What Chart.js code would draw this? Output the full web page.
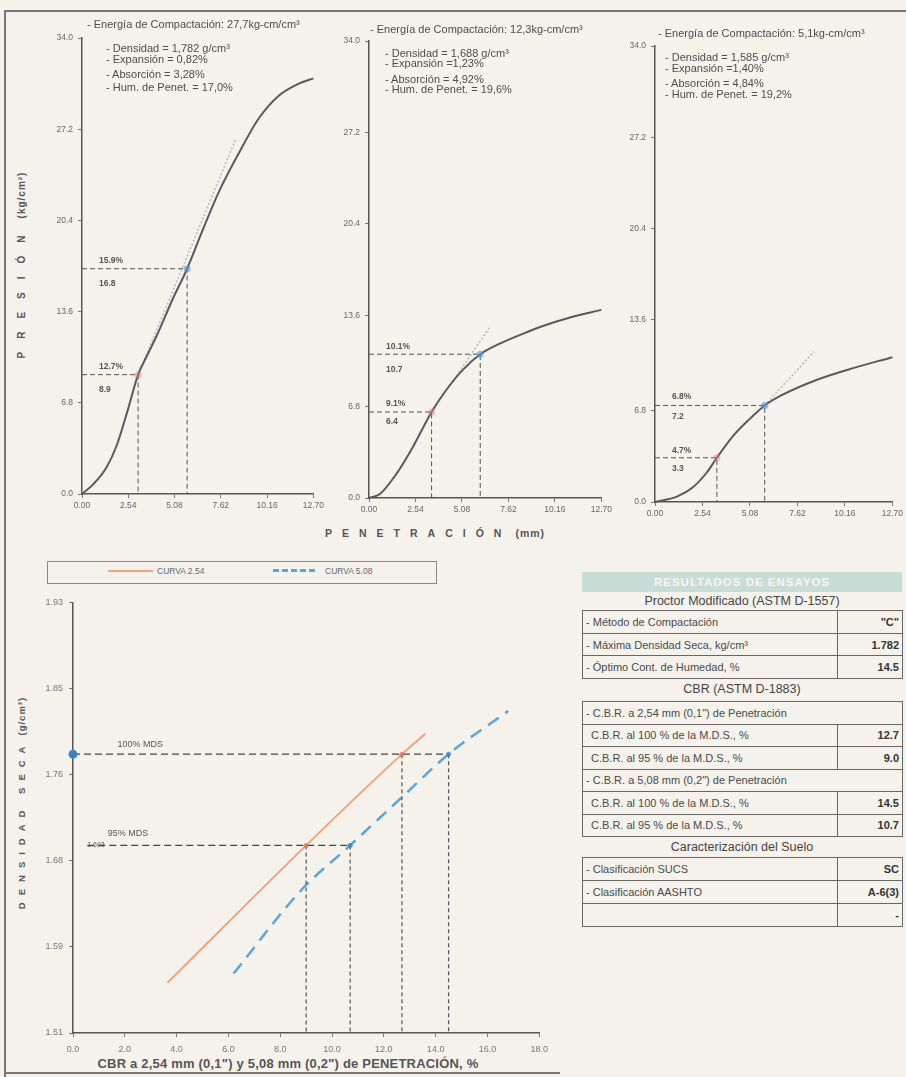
<!DOCTYPE html>
<html><head><meta charset="utf-8">
<script src="https://cdn.jsdelivr.net/npm/chart.js@4.4.1/dist/chart.umd.min.js"></script>
<style>
html,body{margin:0;padding:0;}
body{width:906px;height:1077px;background:#f4f2eb;position:relative;overflow:hidden;font-family:'Liberation Sans',Arial,sans-serif;color:#555;}
canvas{position:absolute;}
.t{position:absolute;white-space:nowrap;line-height:1;}
.info{font-size:11px;color:#4d4d4d;}
.line{position:absolute;background:#777;}
table.r{position:absolute;border-collapse:collapse;font-size:11px;color:#4a4a4a;table-layout:fixed;}
table.r td{border:1px solid #666;padding:0 3px;white-space:nowrap;overflow:hidden;}
table.r td.v{text-align:right;color:#333;font-weight:bold;}
.ttl{position:absolute;left:582px;width:320px;text-align:center;font-size:12.5px;color:#444;line-height:1;}
</style></head><body>

<div class="line" style="left:4px;top:10px;width:902px;height:2px;"></div>
<div class="line" style="left:4px;top:10px;width:2px;height:1067px;"></div>
<div class="line" style="left:4px;top:1072px;width:556px;height:2px;"></div>

<canvas id="c1" width="285" height="488" style="left:42px;top:28px;"></canvas>
<canvas id="c2" width="286" height="489" style="left:329px;top:31px;"></canvas>
<canvas id="c3" width="291" height="488" style="left:615px;top:36px;"></canvas>
<canvas id="c4" width="527" height="464" style="left:28px;top:591px;"></canvas>

<div id="infos"></div>

<div class="t" style="left:22px;top:265px;transform:translate(-50%,-50%) rotate(-90deg);font-size:10px;font-weight:bold;color:#555;"><span style="letter-spacing:13px">PRESIÓN</span><span style="letter-spacing:1px;margin-left:4px">(kg/cm²)</span></div>
<div class="t" style="left:325px;top:528px;font-size:10.5px;font-weight:bold;color:#555;"><span style="letter-spacing:10px">PENETRACIÓN</span><span style="letter-spacing:1px;margin-left:4px">(mm)</span></div>

<div style="position:absolute;left:47px;top:561px;width:388px;height:21px;border:1px solid #888;"></div>
<div style="position:absolute;left:108px;top:570px;width:45px;border-top:2px solid #f2a27a;"></div>
<div class="t" style="left:157px;top:567px;font-size:8.5px;color:#666;">CURVA 2.54</div>
<div style="position:absolute;left:273px;top:569px;width:42px;border-top:3px dashed #5aa5d8;"></div>
<div class="t" style="left:325px;top:567px;font-size:8.5px;color:#666;">CURVA 5.08</div>

<div class="t" style="left:22px;top:803px;transform:translate(-50%,-50%) rotate(-90deg);font-size:9.5px;font-weight:bold;color:#555;"><span style="letter-spacing:7px">DENSIDAD SECA</span><span style="letter-spacing:1px;margin-left:4px">(g/cm³)</span></div>
<div class="t" style="left:288px;top:1063px;transform:translate(-50%,-50%);font-size:13px;letter-spacing:0.2px;font-weight:bold;color:#555;">CBR a 2,54 mm (0,1") y 5,08 mm (0,2") de PENETRACIÓN, %</div>

<div class="t" style="left:582px;top:572px;width:320px;height:20px;background:#c9ddd7;color:#f2f6f4;font-weight:bold;font-size:11.5px;letter-spacing:1px;text-align:center;line-height:20px;">RESULTADOS DE ENSAYOS</div>
<div class="ttl" style="top:595px;">Proctor Modificado (ASTM D-1557)</div>
<div class="ttl" style="top:683px;">CBR (ASTM D-1883)</div>
<div class="ttl" style="top:841px;">Caracterización del Suelo</div>
<div id="tablas"></div>

<script>
// ---------- Curvas presión - penetración ----------
const penetracionTicks = [0.00, 2.54, 5.08, 7.62, 10.16, 12.70];
const presionTicks = [0.0, 6.8, 13.6, 20.4, 27.2, 34.0];

const pen1 = [0, 0.6, 1.35, 1.9, 2.5, 3.08, 3.6, 4.1, 5.0, 5.77, 6.6, 7.5, 8.6, 9.7, 10.8, 11.9, 12.7];
const pres1 = [0, 0.7, 2.0, 3.6, 6.2, 8.9, 10.4, 11.8, 14.6, 16.8, 19.6, 22.5, 25.4, 28.0, 29.7, 30.6, 31.0];
const ptPen1 = [3.08, 5.77];
const ptPres1 = [8.9, 16.8];
const ptCbr1 = ['12.7%', '15.9%'];
const tanPen1 = [3.08, 8.45];
const tanPres1 = [8.9, 26.5];

const pen2 = [0, 0.6, 1.5, 2.4, 3.42, 4.2, 5.1, 6.08, 7.0, 8.2, 9.5, 10.9, 12.7];
const pres2 = [0, 0.3, 1.8, 3.8, 6.4, 8.0, 9.5, 10.7, 11.4, 12.1, 12.8, 13.4, 14.0];
const ptPen2 = [3.42, 6.08];
const ptPres2 = [6.4, 10.7];
const ptCbr2 = ['9.1%', '10.1%'];
const tanPen2 = [3.42, 6.6];
const tanPres2 = [6.4, 12.7];

const pen3 = [0, 1.17, 2.03, 2.77, 3.31, 4.16, 5.07, 5.87, 6.83, 8.64, 10.4, 12.7];
const pres3 = [0, 0.4, 1.1, 2.2, 3.3, 4.9, 6.2, 7.2, 8.0, 9.1, 9.9, 10.8];
const ptPen3 = [3.31, 5.87];
const ptPres3 = [3.3, 7.2];
const ptCbr3 = ['4.7%', '6.8%'];
const tanPen3 = [5.87, 8.5];
const tanPres3 = [7.2, 11.2];

const infoMolde1 = ['- Energía de Compactación: 27,7kg-cm/cm³', '- Densidad = 1,782 g/cm³', '- Expansión = 0,82%', '- Absorción = 3,28%', '- Hum. de Penet. = 17,0%'];
const infoMolde2 = ['- Energía de Compactación: 12,3kg-cm/cm³', '- Densidad = 1,688 g/cm³', '- Expansión =1,23%', '- Absorción = 4,92%', '- Hum. de Penet. = 19,6%'];
const infoMolde3 = ['- Energía de Compactación: 5,1kg-cm/cm³', '- Densidad = 1,585 g/cm³', '- Expansión =1,40%', '- Absorción = 4,84%', '- Hum. de Penet. = 19,2%'];

// ---------- Densidad seca vs CBR ----------
const cbrTicks = [0, 2, 4, 6, 8, 10, 12, 14, 16, 18];
const densidadTicks = [1.510, 1.594, 1.678, 1.762, 1.846, 1.930];
const curva254Cbr = [3.65, 9.0, 12.7, 13.6];
const curva254Dens = [1.559, 1.693, 1.782, 1.802];
const curva508Cbr = [6.2, 8.8, 10.7, 12.7, 14.5, 16.8];
const curva508Dens = [1.568, 1.649, 1.693, 1.740, 1.782, 1.824];
const mdsNiveles = [1.782, 1.693];
const mdsEtiquetas = ['100% MDS', '95% MDS'];
const cbr254 = [12.7, 9.0];
const cbr508 = [14.5, 10.7];

// ---------- Tabla de resultados ----------
const proctorFilas = ['- Método de Compactación', '- Máxima Densidad Seca, kg/cm³', '- Óptimo Cont. de Humedad, %'];
const proctorValores = ['"C"', '1.782', '14.5'];
const cbrFilas = ['- C.B.R. a 2,54 mm (0,1") de Penetración', 'C.B.R. al 100 % de la M.D.S., %', 'C.B.R. al 95 % de la M.D.S., %', '- C.B.R. a 5,08 mm (0,2") de Penetración', 'C.B.R. al 100 % de la M.D.S., %', 'C.B.R. al 95 % de la M.D.S., %'];
const cbrValores = [null, '12.7', '9.0', null, '14.5', '10.7'];
const sueloFilas = ['- Clasificación SUCS', '- Clasificación AASHTO', ''];
const sueloValores = ['SC', 'A-6(3)', '-'];

Chart.defaults.font.family = "'Liberation Sans', Arial, sans-serif";
Chart.defaults.color = '#666';

const zip = (xs, ys) => xs.map((x, i) => ({x: x, y: ys[i]}));

const textos = {
  id: 'textos',
  afterDatasetsDraw(chart, args, opts) {
    const ctx = chart.ctx, sx = chart.scales.x, sy = chart.scales.y;
    (opts.items || []).forEach(it => {
      ctx.save();
      ctx.font = it.font || "8px 'Liberation Sans', Arial";
      ctx.fillStyle = it.color || '#555';
      ctx.textAlign = 'left';
      ctx.textBaseline = 'middle';
      ctx.fillText(it.text, sx.getPixelForValue(it.x) + (it.dx || 0), sy.getPixelForValue(it.y) + (it.dy || 0));
      ctx.restore();
    });
  }
};

function axisCommon(extra) {
  return Object.assign({
    type: 'linear',
    grid: {display: true, drawOnChartArea: false, drawTicks: true, tickLength: 4, color: '#777'},
    border: {display: true, color: '#555', width: 1.5}
  }, extra);
}

function topChart(id, pen, pres, ptPen, ptPres, ptCbr, tanPen, tanPres, dyUp, dyDown) {
  const ds = [];
  ds.push({data: zip(ptPen, ptPres), showLine: false, pointRadius: 3.5, pointBorderWidth: 0,
           pointBackgroundColor: ['rgba(225,120,120,0.45)', 'rgba(80,150,225,0.6)']});
  ds.push({data: zip(pen, pres), borderColor: '#5a5a5a', borderWidth: 2, pointRadius: 0, cubicInterpolationMode: 'monotone'});
  ds.push({data: zip(tanPen, tanPres), borderColor: '#b8b8b8', borderWidth: 1.5, borderDash: [2, 2], pointRadius: 0});
  ptPen.forEach((p, i) => {
    ds.push({data: [{x: 0, y: ptPres[i]}, {x: p, y: ptPres[i]}, {x: p, y: 0}], borderColor: '#555', borderWidth: 1, borderDash: [5, 3], pointRadius: 0});
  });
  const items = [];
  ptPen.forEach((p, i) => {
    items.push({text: ptCbr[i], x: 0, y: ptPres[i], dx: 17, dy: dyUp[i], font: "bold 8.5px 'Liberation Sans', Arial"});
    items.push({text: ptPres[i].toFixed(1), x: 0, y: ptPres[i], dx: 17, dy: dyDown[i], font: "bold 8.5px 'Liberation Sans', Arial"});
  });
  ds.forEach(d => { d.clip = false; d.fill = false; });
  return new Chart(document.getElementById(id), {
    type: 'line',
    data: {datasets: ds},
    plugins: [textos],
    options: {
      responsive: false, animation: false, events: [],
      layout: {padding: {top: 6, right: id === 'c3' ? 13 : 12, left: 0, bottom: 0}, autoPadding: false},
      plugins: {legend: {display: false}, tooltip: {enabled: false}, textos: {items: items}},
      scales: {
        x: axisCommon({min: 0, max: 12.7,
          afterBuildTicks(s) { s.ticks = penetracionTicks.map(v => ({value: v})); },
          afterFit(s) { s.height = 22; },
          ticks: {callback: v => Number(v).toFixed(2), font: {size: 8.5}, color: '#666', padding: 3, maxRotation: 0, autoSkip: false}}),
        y: axisCommon({min: 0, max: 34,
          afterBuildTicks(s) { s.ticks = presionTicks.map(v => ({value: v})); },
          afterFit(s) { s.width = 40; },
          ticks: {callback: v => Number(v).toFixed(1), font: {size: 8.5}, color: '#666', padding: 5}})
      }
    }
  });
}

topChart('c1', pen1, pres1, ptPen1, ptPres1, ptCbr1, tanPen1, tanPres1, [-8, -8], [15, 15]);
topChart('c2', pen2, pres2, ptPen2, ptPres2, ptCbr2, tanPen2, tanPres2, [-8, -8], [10, 15]);
topChart('c3', pen3, pres3, ptPen3, ptPres3, ptCbr3, tanPen3, tanPres3, [-7, -9], [11, 11]);

// info text blocks
const infoPos = [
  {x0: 87, y0: 24, x: 106, ys: [48, 59, 74, 87]},
  {x0: 370, y0: 29, x: 385, ys: [53, 63, 79, 89]},
  {x0: 658, y0: 33, x: 665, ys: [57, 68, 83, 94]}
];
const infos = [infoMolde1, infoMolde2, infoMolde3];
let ih = '';
infos.forEach((lst, k) => {
  const p = infoPos[k];
  ih += `<div class="t info" style="left:${p.x0}px;top:${p.y0 - 5.5}px;">${lst[0]}</div>`;
  lst.slice(1).forEach((s, j) => { ih += `<div class="t info" style="left:${p.x}px;top:${p.ys[j] - 5.5}px;">${s}</div>`; });
});
document.getElementById('infos').innerHTML = ih;

// Bottom chart
(function () {
  const ds = [];
  ds.push({data: [{x: 0, y: mdsNiveles[0]}], showLine: false, pointRadius: 4.5, pointBackgroundColor: '#3f82c4', pointBorderWidth: 0});
  ds.push({data: [{x: cbr254[0], y: mdsNiveles[0]}, {x: cbr254[1], y: mdsNiveles[1]}], showLine: false, pointRadius: 2.5, pointBackgroundColor: 'rgba(220,110,90,0.7)', pointBorderWidth: 0});
  ds.push({data: [{x: cbr508[0], y: mdsNiveles[0]}, {x: cbr508[1], y: mdsNiveles[1]}], showLine: false, pointRadius: 2.5, pointBackgroundColor: 'rgba(60,130,200,0.8)', pointBorderWidth: 0});
  ds.push({data: [{x: 0, y: mdsNiveles[0]}, {x: cbr508[0], y: mdsNiveles[0]}], borderColor: '#444', borderWidth: 1.3, borderDash: [7, 4], pointRadius: 0});
  ds.push({data: [{x: 0.55, y: mdsNiveles[1]}, {x: cbr508[1], y: mdsNiveles[1]}], borderColor: '#444', borderWidth: 1.3, borderDash: [7, 4], pointRadius: 0});
  [cbr254, cbr508].forEach(arr => arr.forEach((c, i) => {
    ds.push({data: [{x: c, y: mdsNiveles[i]}, {x: c, y: densidadTicks[0]}], borderColor: '#555', borderWidth: 1.2, borderDash: [4, 3], pointRadius: 0});
  }));
  ds.push({data: zip(curva254Cbr, curva254Dens), borderColor: '#f2a27a', borderWidth: 2, pointRadius: 0, cubicInterpolationMode: 'monotone'});
  ds.push({data: zip(curva508Cbr, curva508Dens), borderColor: '#5aa5d8', borderWidth: 2.5, borderDash: [13, 8], pointRadius: 0, cubicInterpolationMode: 'monotone'});
  ds.forEach(d => { d.clip = false; d.fill = false; });
  const items = [
    {text: mdsEtiquetas[0], x: 1.72, y: mdsNiveles[0], dy: -10, font: "9px 'Liberation Sans', Arial"},
    {text: mdsEtiquetas[1], x: 1.34, y: mdsNiveles[1], dy: -12, font: "9px 'Liberation Sans', Arial"},
    {text: mdsNiveles[1].toFixed(3), x: 0.55, y: mdsNiveles[1], dy: 0, font: "7px 'Liberation Sans', Arial"}
  ];
  new Chart(document.getElementById('c4'), {
    type: 'line',
    data: {datasets: ds},
    plugins: [textos],
    options: {
      responsive: false, animation: false, events: [],
      layout: {padding: {top: 6, right: 12, left: 0, bottom: 0}, autoPadding: false},
      plugins: {legend: {display: false}, tooltip: {enabled: false}, textos: {items: items}},
      scales: {
        x: axisCommon({min: 0, max: 18,
          afterBuildTicks(s) { s.ticks = cbrTicks.map(v => ({value: v})); },
          afterFit(s) { s.height = 22; },
          ticks: {callback: v => Number(v).toFixed(1), font: {size: 9}, color: '#777', padding: 7, maxRotation: 0, autoSkip: false}}),
        y: axisCommon({min: densidadTicks[0], max: densidadTicks[densidadTicks.length - 1],
          afterBuildTicks(s) { s.ticks = densidadTicks.map(v => ({value: v})); },
          afterFit(s) { s.width = 45; },
          ticks: {callback: v => Number(v).toFixed(2), font: {size: 9}, color: '#777', padding: 6}})
      }
    }
  });
})();

// tables
function tabla(top, rowH, filas, valores) {
  let h = `<table class="r" style="left:582px;top:${top}px;width:320px;"><colgroup><col style="width:255px"><col style="width:65px"></colgroup>`;
  filas.forEach((f, i) => {
    if (valores[i] === null) h += `<tr style="height:${rowH}px"><td colspan="2">${f}</td></tr>`;
    else h += `<tr style="height:${rowH}px"><td style="padding-left:${f.startsWith('-') ? 3 : 8}px">${f}</td><td class="v">${valores[i]}</td></tr>`;
  });
  return h + '</table>';
}
document.getElementById('tablas').innerHTML =
  tabla(610, 22.7, proctorFilas, proctorValores) +
  tabla(701, 22.5, cbrFilas, cbrValores) +
  tabla(857, 23, sueloFilas, sueloValores);
</script>
</body></html>
